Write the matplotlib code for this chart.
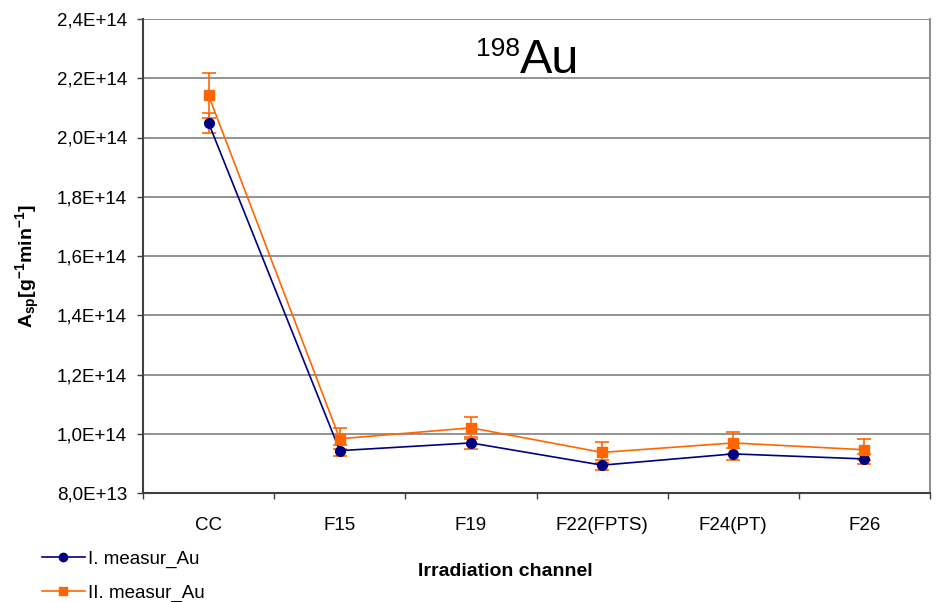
import matplotlib
matplotlib.use("Agg")
import matplotlib.pyplot as plt
from matplotlib.ticker import FuncFormatter, FixedLocator
from matplotlib.lines import Line2D

plt.rcParams['font.family'] = ['Liberation Sans', 'DejaVu Sans']
plt.rcParams['mathtext.fontset'] = 'custom'
plt.rcParams['mathtext.rm'] = 'Liberation Sans'
plt.rcParams['mathtext.bf'] = 'Liberation Sans:bold'
plt.rcParams['mathtext.it'] = 'Liberation Sans:italic'

channels = ['CC', 'F15', 'F19', 'F22(FPTS)', 'F24(PT)', 'F26']
meas1 = [2.049e14, 0.943e14, 0.969e14, 0.894e14, 0.932e14, 0.915e14]
meas1_err = [0.034e14, 0.019e14, 0.019e14, 0.018e14, 0.019e14, 0.018e14]
meas2 = [2.142e14, 0.983e14, 1.020e14, 0.937e14, 0.969e14, 0.946e14]
meas2_err = [0.075e14, 0.035e14, 0.038e14, 0.036e14, 0.036e14, 0.035e14]
yticks = [0.8e14, 1.0e14, 1.2e14, 1.4e14, 1.6e14, 1.8e14, 2.0e14, 2.2e14, 2.4e14]

W, H = 939, 602
fig = plt.figure(figsize=(W / 100, H / 100), dpi=100)
ax = fig.add_axes([143 / W, (H - 493) / H, 787 / W, 474 / H])

x = list(range(len(channels)))
blue = '#000080'
orange = '#FF6600'

# error bars are orange for both series, as in the original
ax.errorbar(x, meas1, yerr=meas1_err, fmt='none', ecolor=orange, capsize=5,
            elinewidth=1.2, capthick=1.2, zorder=2)
ax.errorbar(x, meas2, yerr=meas2_err, fmt='none', ecolor=orange, capsize=5,
            elinewidth=1.2, capthick=1.2, zorder=2)
ax.plot(x, meas1, color=blue, marker='o', markersize=7, lw=1.2, zorder=3)
ax.plot(x, meas2, color=orange, marker='s', markersize=7, lw=1.2, zorder=4)

ax.set_xlim(-0.5, len(channels) - 0.5)
ax.set_ylim(0.8e14, 2.4e14)
ax.set_yticks(yticks)
ax.yaxis.set_major_formatter(FuncFormatter(lambda v, p: f"{v:.1E}".replace('.', ',')))
ax.grid(axis='y', color='#808080', lw=1.2)
ax.set_axisbelow(True)

ax.set_xticks(x)
ax.set_xticklabels(channels)
ax.xaxis.set_minor_locator(FixedLocator([i - 0.5 for i in range(len(channels) + 1)]))
ax.tick_params(axis='x', which='major', length=0, pad=17, labelsize=13.5)
ax.tick_params(axis='x', which='minor', length=4.5, width=1, color='#404040')
ax.tick_params(axis='y', length=4.5, width=1, color='#404040', labelsize=13.5, pad=7)

ax.spines['top'].set_visible(False)
ax.spines['right'].set_color('#909090')
ax.spines['right'].set_linewidth(1.5)
for s in ['left', 'bottom']:
    ax.spines[s].set_color('#404040')
    ax.spines[s].set_linewidth(1.5)

# title inside the plot
fig.text(520 / W, 1 - 73 / H, 'Au', fontsize=35, ha='left', va='baseline')
fig.text(520 / W, 1 - 56 / H, '198', fontsize=19, ha='right', va='baseline')

fig.text(28 / W, 1 - 266 / H, r'$\mathbf{A}_{\mathbf{sp}}\mathbf{[g^{-1}min^{-1}]}$',
         fontsize=14, rotation=90, ha='center', va='center')

fig.text(505 / W, 1 - 572 / H, 'Irradiation channel', fontsize=14, fontweight='bold',
         ha='center', va='center')

handles = [Line2D([], [], color=blue, marker='o', markersize=6, lw=1.2),
           Line2D([], [], color=orange, marker='s', markersize=6, lw=1.2)]
fig.legend(handles, ['I. measur_Au', 'II. measur_Au'], loc='upper left',
           bbox_to_anchor=(34 / W, 1 - 543 / H), frameon=False,
           fontsize=13.5, handlelength=2.3, handletextpad=0.2, labelspacing=0.9,
           borderaxespad=0)

fig.savefig('out.png', dpi=100)
